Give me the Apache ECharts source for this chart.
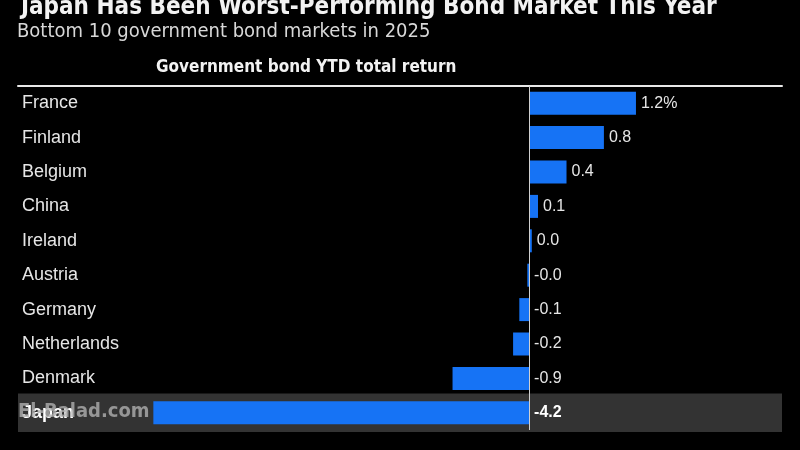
<!DOCTYPE html>
<html>
<head>
<meta charset="utf-8">
<script src="https://cdn.jsdelivr.net/npm/echarts@6/dist/echarts.min.js"></script>
<style>
  html, body { margin: 0; padding: 0; background: #000; }
  #main { width: 800px; height: 450px; }
</style>
</head>
<body>
<div id="main"></div>
<script>
// bottom 10 markets, YTD total return (%)
var countries = ['France', 'Finland', 'Belgium', 'China', 'Ireland', 'Austria', 'Germany', 'Netherlands', 'Denmark', 'Japan'];
var returns = [1.2, 0.84, 0.42, 0.1, 0.03, -0.02, -0.11, -0.18, -0.86, -4.22];
var highlight = ['Japan'];

var xMin = -5.74, xMax = 2.84;
var font = '"Liberation Sans", Arial, sans-serif';
var narrow = '"DejaVu Sans Condensed", sans-serif';

var myChart = echarts.init(document.getElementById('main'));

var option = {
    backgroundColor: '#000',
    animation: false,
    title: [{
        text: 'Japan Has Been Worst-Performing Bond Market This Year',
        left: 16,
        top: -9,
        textStyle: { color: '#f2f2f2', fontSize: 24, fontWeight: 'bold', fontFamily: narrow }
    }, {
        text: 'Bottom 10 government bond markets in 2025',
        left: 12,
        top: 17,
        textStyle: { color: '#d8d8d8', fontSize: 20, fontWeight: 'normal', fontFamily: narrow }
    }, {
        text: 'Government bond YTD total return',
        left: 151,
        top: 54,
        textStyle: { color: '#f2f2f2', fontSize: 17, fontWeight: 'bold', fontFamily: narrow }
    }],
    grid: { left: 18, right: 18, top: 86, bottom: 20 },
    xAxis: {
        type: 'value',
        position: 'top',
        min: xMin,
        max: xMax,
        axisLine: { show: true, onZero: false, lineStyle: { color: '#e8e8e8', width: 2 } },
        axisTick: { show: false },
        axisLabel: { show: false },
        splitLine: { show: false }
    },
    yAxis: {
        type: 'category',
        inverse: true,
        data: countries,
        axisLine: { show: false },
        axisTick: { show: false },
        axisLabel: {
            inside: true,
            margin: 4,
            color: '#e6e6e6',
            fontSize: 18,
            fontFamily: font,
            formatter: function (v) {
                return highlight.indexOf(v) >= 0 ? '{hl|' + v + '}' : v;
            },
            rich: { hl: { color: '#fff', fontSize: 18, fontWeight: 'bold', fontFamily: font } }
        },
        z: 10
    },
    series: [{
        type: 'custom',
        silent: true,
        z: 1,
        data: highlight.map(function (c) { return [countries.indexOf(c)]; }),
        renderItem: function (params, api) {
            var idx = api.value(0);
            var p0 = api.coord([xMin, idx]);
            var p1 = api.coord([xMax, idx]);
            var h = api.size([0, 1])[1] + 4;
            return {
                type: 'rect',
                shape: { x: p0[0], y: p0[1] - h / 2, width: p1[0] - p0[0], height: h },
                style: { fill: '#333333' }
            };
        },
        encode: { y: 0 }
    }, {
        type: 'bar',
        z: 2,
        barWidth: 23,
        data: returns.map(function (v, i) {
            var hl = highlight.indexOf(countries[i]) >= 0;
            return {
                value: v,
                label: hl ? { fontWeight: 'bold', color: '#fff' } : {}
            };
        }),
        itemStyle: { color: '#1673f5' },
        label: {
            show: true,
            position: 'right',
            distance: 5,
            color: '#e6e6e6',
            fontSize: 16,
            fontFamily: font,
            formatter: function (p) {
                var s = p.value.toFixed(1);
                return p.dataIndex === 0 ? s + '%' : s;
            }
        },
        markLine: {
            silent: true,
            symbol: 'none',
            label: { show: false },
            lineStyle: { color: '#d0d0d0', width: 1, type: 'solid' },
            data: [{ xAxis: 0 }]
        }
    }],
    graphic: [{
        type: 'text',
        left: 18,
        top: 402,
        z: 20,
        style: {
            text: 'El-Balad.com',
            fill: 'rgba(175,175,175,0.8)',
            font: 'bold 20px ' + narrow
        }
    }]
};

myChart.setOption(option);
</script>
</body>
</html>
